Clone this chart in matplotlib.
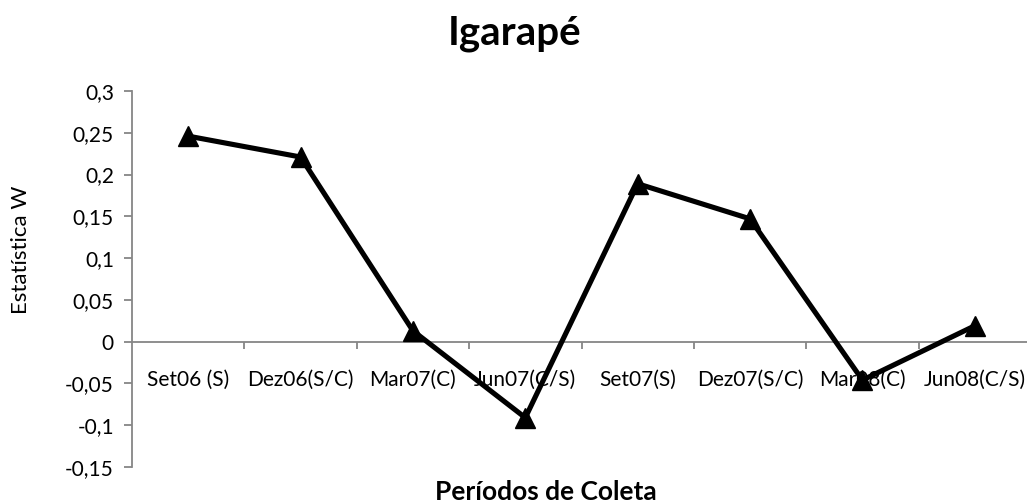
import numpy as np
import matplotlib
matplotlib.use("Agg")
import matplotlib.pyplot as plt
from matplotlib.ticker import FuncFormatter, FixedLocator

plt.rcParams['font.family'] = ['Lato', 'DejaVu Sans']

# dados
periodos = ["Set06 (S)", "Dez06(S/C)", "Mar07(C)", "Jun07(C/S)",
            "Set07(S)", "Dez07(S/C)", "Mar08(C)", "Jun08(C/S)"]
estat_w = [0.246, 0.221, 0.013, -0.091, 0.189, 0.147, -0.046, 0.019]

W, H = 1027, 504
fig = plt.figure(figsize=(W / 100, H / 100), dpi=100)
ax = fig.add_axes([132 / W, 1 - 467 / H, (1031 - 132) / W, (467 - 91) / H])

x = np.arange(len(periodos)) + 0.5
ax.plot(x, estat_w, color='black', lw=3.7, marker='^', markersize=15,
        markerfacecolor='black', markeredgecolor='black', clip_on=False, zorder=3)

ax.set_xlim(0, len(periodos))
ax.set_ylim(-0.15, 0.3)
ax.set_yticks(np.arange(-0.15, 0.3001, 0.05))
ax.yaxis.set_major_formatter(FuncFormatter(
    lambda v, p: "0" if abs(v) < 1e-9 else f"{v:.2f}".rstrip('0').replace('.', ',')))

cinza = '#868686'
for s in ['top', 'right']:
    ax.spines[s].set_visible(False)
ax.spines['left'].set_color(cinza)
ax.spines['bottom'].set_color(cinza)
ax.spines['left'].set_linewidth(1.3)
ax.spines['bottom'].set_linewidth(1.3)
ax.spines['bottom'].set_position(('data', 0))

ax.set_xticks(x)
ax.set_xticklabels(periodos)
ax.xaxis.set_minor_locator(FixedLocator(np.arange(1, len(periodos))))
ax.tick_params(axis='x', which='major', length=0, pad=20, labelsize=15)
ax.tick_params(axis='x', which='minor', length=5, width=1.3, color=cinza, direction='out')
ax.tick_params(axis='y', length=6, width=1.3, color=cinza, direction='out', pad=7, labelsize=15)

fig.text(515 / W, 1 - 45 / H, "Igarapé", ha='center', va='baseline',
         fontsize=29, fontweight='bold')
fig.text(546 / W, 1 - 500 / H, "Períodos de Coleta", ha='center', va='baseline',
         fontsize=19, fontweight='bold')
fig.text(21 / W, 1 - 250 / H, "Estatística W", ha='center', va='center',
         rotation=90, fontsize=16)

fig.savefig("out.png", dpi=100)
